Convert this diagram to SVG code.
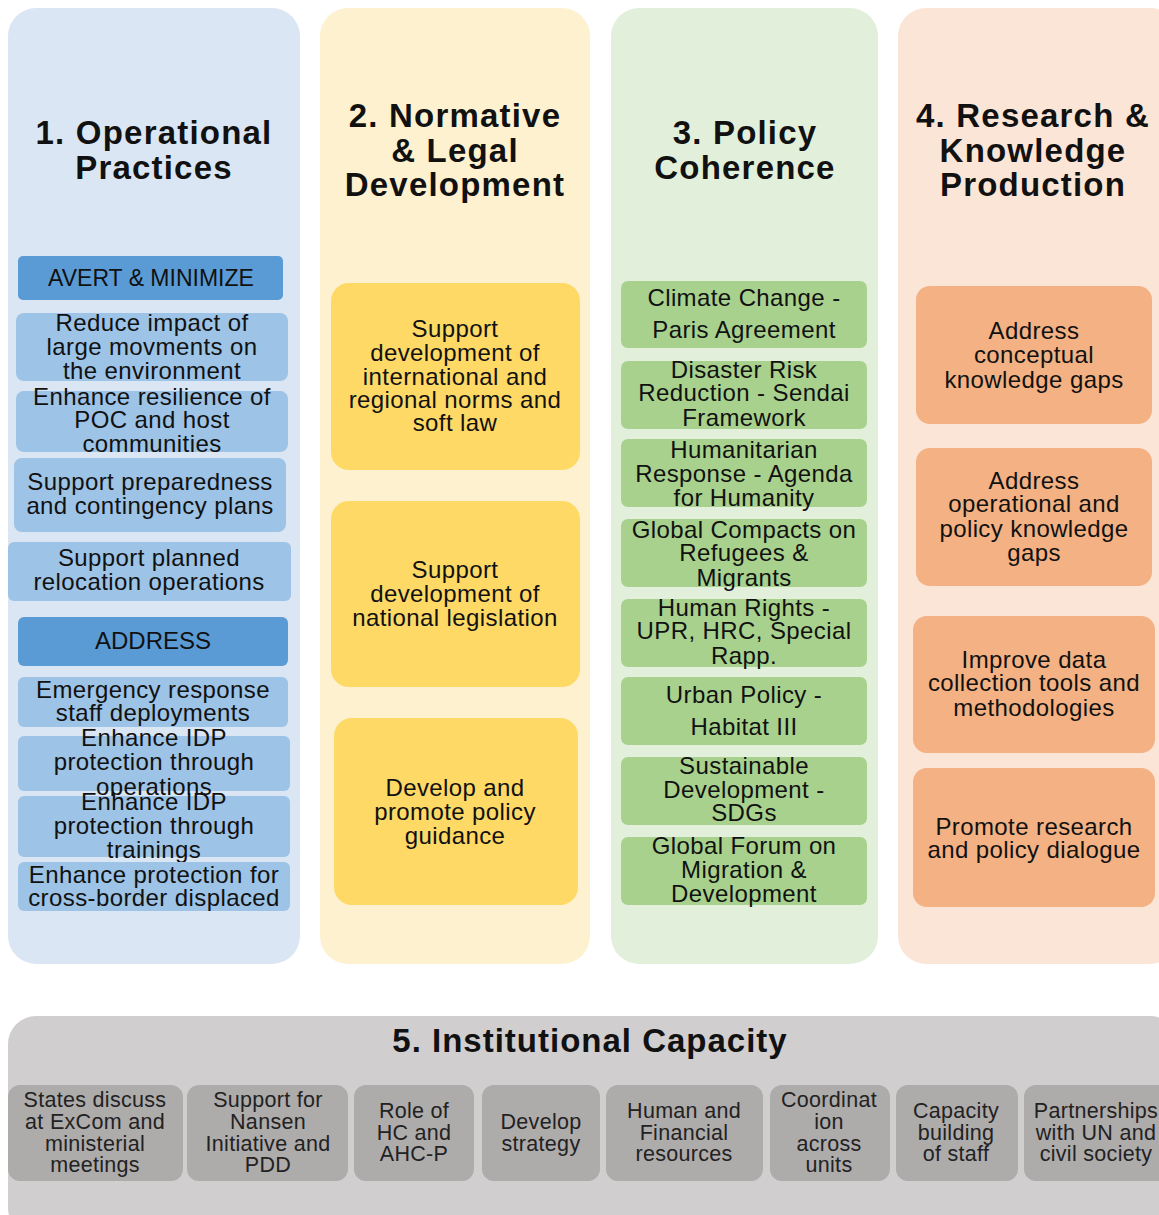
<svg xmlns="http://www.w3.org/2000/svg" width="1159" height="1215" viewBox="0 0 1159 1215">
<style>
.t{font-family:"Liberation Sans",Arial,sans-serif;font-size:24px;letter-spacing:0.4px;text-anchor:middle;fill:#111}
.h{font-family:"Liberation Sans",Arial,sans-serif;font-size:33px;letter-spacing:1.2px;font-weight:bold;text-anchor:middle;fill:#111}
.s{font-family:"Liberation Sans",Arial,sans-serif;font-size:21.5px;letter-spacing:0.3px;text-anchor:middle;fill:#222}
.hd{font-family:"Liberation Sans",Arial,sans-serif;font-size:23px;text-anchor:middle;fill:#111}
.c1{fill:#dae6f3}.c2{fill:#fdf1cf}.c3{fill:#e2efda}.c4{fill:#fbe5d6}.c5{fill:#d0cece}
.b1{fill:#9dc3e6}.bh{fill:#5b9bd5}.b2{fill:#fed966}.b3{fill:#a9d18e}.b4{fill:#f4b183}.b5{fill:#aeabab}
</style>
<rect width="1159" height="1215" fill="#ffffff"/>
<g id="col1">
<rect class="c1" x="8" y="8" width="292" height="956" rx="28"/>
<text class="h" x="154" y="144">1. Operational</text>
<text class="h" x="154" y="179">Practices</text>
</g>
<g id="col2">
<rect class="c2" x="320" y="8" width="270" height="956" rx="28"/>
<text class="h" x="455" y="127">2. Normative</text>
<text class="h" x="455" y="162">&amp; Legal</text>
<text class="h" x="455" y="196">Development</text>
</g>
<g id="col3">
<rect class="c3" x="611" y="8" width="267" height="956" rx="28"/>
<text class="h" x="745" y="144">3. Policy</text>
<text class="h" x="745" y="179">Coherence</text>
</g>
<g id="col4">
<rect class="c4" x="898" y="8" width="280" height="956" rx="28"/>
<text class="h" x="1033" y="127">4. Research &amp;</text>
<text class="h" x="1033" y="162">Knowledge</text>
<text class="h" x="1033" y="196">Production</text>
</g>
<g id="col5">
<rect class="c5" x="8" y="1016" width="1170" height="220" rx="28"/>
<text class="h" x="590" y="1052" style="letter-spacing:1px">5. Institutional Capacity</text>
</g>
<g id="connectors"></g>

<g id="n-avert"><rect class="bh" x="18" y="256" width="265" height="44" rx="5"/><text class="hd" x="151" y="286">AVERT &amp; MINIMIZE</text></g>
<g id="n-reduce"><rect class="b1" x="16" y="313" width="272" height="68" rx="8"/><text class="t"><tspan x="152" y="331">Reduce impact of</tspan><tspan x="152" y="355">large movments  on</tspan><tspan x="152" y="379">the environment</tspan></text></g>
<g id="n-resilience"><rect class="b1" x="16" y="391" width="272" height="61" rx="8"/><text class="t"><tspan x="152" y="405">Enhance resilience of</tspan><tspan x="152" y="428">POC and host</tspan><tspan x="152" y="452">communities</tspan></text></g>
<g id="n-prepare"><rect class="b1" x="14" y="458" width="272" height="74" rx="8"/><text class="t"><tspan x="150" y="490">Support preparedness</tspan><tspan x="150" y="514">and contingency plans</tspan></text></g>
<g id="n-relocation"><rect class="b1" x="8" y="542" width="283" height="59" rx="6"/><text class="t"><tspan x="149" y="566">Support planned</tspan><tspan x="149" y="590">relocation operations</tspan></text></g>
<g id="n-address"><rect class="bh" x="18" y="617" width="270" height="49" rx="6"/><text class="hd" x="153" y="649" style="font-size:24px">ADDRESS</text></g>
<g id="n-emergency"><rect class="b1" x="18" y="677" width="270" height="50" rx="6"/><text class="t"><tspan x="153" y="698">Emergency response</tspan><tspan x="153" y="721">staff deployments</tspan></text></g>
<g id="n-idp-ops"><rect class="b1" x="18" y="736" width="272" height="55" rx="6"/><text class="t"><tspan x="154" y="746">Enhance IDP</tspan><tspan x="154" y="770">protection through</tspan><tspan x="154" y="795">operations</tspan></text></g>
<g id="n-idp-train"><rect class="b1" x="18" y="796" width="272" height="61" rx="6"/><text class="t"><tspan x="154" y="810">Enhance IDP</tspan><tspan x="154" y="834">protection through</tspan><tspan x="154" y="858">trainings</tspan></text></g>
<g id="n-crossborder"><rect class="b1" x="18" y="862" width="272" height="49" rx="6"/><text class="t"><tspan x="154" y="883">Enhance protection for</tspan><tspan x="154" y="906">cross-border displaced</tspan></text></g>

<g id="n-norms"><rect class="b2" x="331" y="283" width="249" height="187" rx="18"/><text class="t"><tspan x="455" y="337">Support</tspan><tspan x="455" y="361">development of</tspan><tspan x="455" y="385">international and</tspan><tspan x="455" y="408">regional norms and</tspan><tspan x="455" y="431">soft law</tspan></text></g>
<g id="n-national"><rect class="b2" x="331" y="501" width="249" height="186" rx="18"/><text class="t"><tspan x="455" y="578">Support</tspan><tspan x="455" y="602">development of</tspan><tspan x="455" y="626">national legislation</tspan></text></g>
<g id="n-guidance"><rect class="b2" x="334" y="718" width="244" height="187" rx="18"/><text class="t"><tspan x="455" y="796">Develop and</tspan><tspan x="455" y="820">promote policy</tspan><tspan x="455" y="844">guidance</tspan></text></g>

<g id="n-climate"><rect class="b3" x="621" y="281" width="246" height="67" rx="7"/><text class="t"><tspan x="744" y="306">Climate Change -</tspan><tspan x="744" y="338">Paris Agreement</tspan></text></g>
<g id="n-disaster"><rect class="b3" x="621" y="361" width="246" height="68" rx="7"/><text class="t"><tspan x="744" y="378">Disaster Risk</tspan><tspan x="744" y="401">Reduction - Sendai</tspan><tspan x="744" y="426">Framework</tspan></text></g>
<g id="n-humanitarian"><rect class="b3" x="621" y="439" width="246" height="68" rx="7"/><text class="t"><tspan x="744" y="458">Humanitarian</tspan><tspan x="744" y="482">Response - Agenda</tspan><tspan x="744" y="506">for Humanity</tspan></text></g>
<g id="n-compacts"><rect class="b3" x="621" y="519" width="246" height="68" rx="7"/><text class="t"><tspan x="744" y="538">Global Compacts on</tspan><tspan x="744" y="561">Refugees &amp;</tspan><tspan x="744" y="586">Migrants</tspan></text></g>
<g id="n-rights"><rect class="b3" x="621" y="599" width="246" height="68" rx="7"/><text class="t"><tspan x="744" y="616">Human Rights -</tspan><tspan x="744" y="639">UPR, HRC,  Special</tspan><tspan x="744" y="664">Rapp.</tspan></text></g>
<g id="n-urban"><rect class="b3" x="621" y="677" width="246" height="68" rx="7"/><text class="t"><tspan x="744" y="703">Urban Policy -</tspan><tspan x="744" y="735">Habitat III</tspan></text></g>
<g id="n-sdg"><rect class="b3" x="621" y="757" width="246" height="68" rx="7"/><text class="t"><tspan x="744" y="774">Sustainable</tspan><tspan x="744" y="798">Development -</tspan><tspan x="744" y="821">SDGs</tspan></text></g>
<g id="n-forum"><rect class="b3" x="621" y="837" width="246" height="68" rx="7"/><text class="t"><tspan x="744" y="854">Global Forum on</tspan><tspan x="744" y="878">Migration &amp;</tspan><tspan x="744" y="902">Development</tspan></text></g>

<g id="n-conceptual"><rect class="b4" x="916" y="286" width="236" height="138" rx="14"/><text class="t"><tspan x="1034" y="339">Address</tspan><tspan x="1034" y="363">conceptual</tspan><tspan x="1034" y="388">knowledge gaps</tspan></text></g>
<g id="n-operational"><rect class="b4" x="916" y="448" width="236" height="138" rx="14"/><text class="t"><tspan x="1034" y="489">Address</tspan><tspan x="1034" y="512">operational and</tspan><tspan x="1034" y="537">policy knowledge</tspan><tspan x="1034" y="561">gaps</tspan></text></g>
<g id="n-data"><rect class="b4" x="913" y="616" width="242" height="137" rx="14"/><text class="t"><tspan x="1034" y="668">Improve data</tspan><tspan x="1034" y="691">collection tools and</tspan><tspan x="1034" y="716">methodologies</tspan></text></g>
<g id="n-promote"><rect class="b4" x="913" y="768" width="242" height="139" rx="14"/><text class="t"><tspan x="1034" y="835">Promote research</tspan><tspan x="1034" y="858">and policy dialogue</tspan></text></g>

<g id="n-states"><rect class="b5" x="8" y="1085" width="175" height="96" rx="12"/><text class="s"><tspan x="95" y="1107">States discuss</tspan><tspan x="95" y="1129">at ExCom and</tspan><tspan x="95" y="1151">ministerial</tspan><tspan x="95" y="1172">meetings</tspan></text></g>
<g id="n-nansen"><rect class="b5" x="187" y="1085" width="161" height="96" rx="12"/><text class="s"><tspan x="268" y="1107">Support for</tspan><tspan x="268" y="1129">Nansen</tspan><tspan x="268" y="1151">Initiative and</tspan><tspan x="268" y="1172">PDD</tspan></text></g>
<g id="n-role"><rect class="b5" x="354" y="1085" width="120" height="96" rx="12"/><text class="s"><tspan x="414" y="1118">Role of</tspan><tspan x="414" y="1140">HC and</tspan><tspan x="414" y="1161">AHC-P</tspan></text></g>
<g id="n-strategy"><rect class="b5" x="482" y="1085" width="118" height="96" rx="12"/><text class="s"><tspan x="541" y="1129">Develop</tspan><tspan x="541" y="1151">strategy</tspan></text></g>
<g id="n-resources"><rect class="b5" x="606" y="1085" width="157" height="96" rx="12"/><text class="s"><tspan x="684" y="1118">Human  and</tspan><tspan x="684" y="1140">Financial</tspan><tspan x="684" y="1161">resources</tspan></text></g>
<g id="n-coordination"><rect class="b5" x="770" y="1085" width="120" height="96" rx="12"/><text class="s"><tspan x="829" y="1107">Coordinat</tspan><tspan x="829" y="1129">ion</tspan><tspan x="829" y="1151">across</tspan><tspan x="829" y="1172">units</tspan></text></g>
<g id="n-capacity"><rect class="b5" x="896" y="1085" width="122" height="96" rx="12"/><text class="s"><tspan x="956" y="1118">Capacity</tspan><tspan x="956" y="1140">building</tspan><tspan x="956" y="1161">of staff</tspan></text></g>
<g id="n-partnerships"><rect class="b5" x="1024" y="1085" width="150" height="96" rx="12"/><text class="s"><tspan x="1096" y="1118">Partnerships</tspan><tspan x="1096" y="1140">with UN and</tspan><tspan x="1096" y="1161">civil society</tspan></text></g>
</svg>
